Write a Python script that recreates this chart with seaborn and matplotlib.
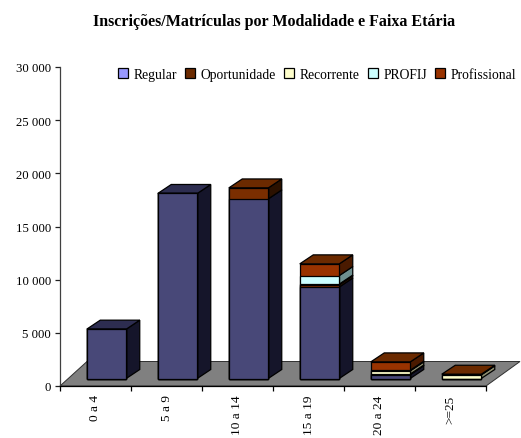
import matplotlib
matplotlib.use("Agg")
import matplotlib.pyplot as plt
from matplotlib.patches import Patch, Polygon
import numpy as np
import seaborn as sns

categories = ["0 a 4", "5 a 9", "10 a 14", "15 a 19", "20 a 24", ">=25"]
regular = [4640, 17400, 16890, 8600, 360, 0]
oportunidade = [0, 0, 1030, 220, 60, 0]
recorrente = [0, 0, 0, 60, 300, 340]
profij = [0, 0, 0, 800, 60, 0]
profissional = [0, 0, 0, 1100, 780, 60]
series_names = ["Regular", "Oportunidade", "Recorrente", "PROFIJ", "Profissional"]
yticks = [0, 5000, 10000, 15000, 20000, 25000, 30000]
ytick_labels = ["0", "5 000", "10 000", "15 000", "20 000", "25 000", "30 000"]

series = [regular, oportunidade, recorrente, profij, profissional]
legend_colors = ["#9999FF", "#6B2A00", "#FFFFCC", "#CCFFFF", "#993300"]
front_colors = ["#484878", "#7A2E00", "#FFFFCC", "#CCFFFF", "#993300"]
side_colors = ["#15152A", "#2B1100", "#8F8F70", "#6F8F8F", "#4A1A00"]
top_colors = ["#2D2D50", "#6B2A00", "#8F8F70", "#6F8F8F", "#6B2A00"]

sns.set_style("white")
plt.rcParams["font.family"] = ["Liberation Serif", "DejaVu Serif"]
plt.rcParams["text.color"] = "black"
plt.rcParams["xtick.color"] = "black"
plt.rcParams["ytick.color"] = "black"

W, H = 521, 439
fig = plt.figure(figsize=(W / 100, H / 100), dpi=100)
ax = fig.add_axes([60 / W, (H - 387) / H, 426 / W, 319 / H])

px_x = 71.0
spacing_scale = 1.0
px_y = 319.0 / 30000
base = 7.5 / px_y
dx = 13.5 / px_x
dy = 9.0 / px_y
bar_w = 39.5 / px_x
x_left = -46.5 / px_x
x_right = x_left + 6.0
lw = 0.9

# floor
floor = Polygon([(x_left, 0), (x_right, 0), (x_right + 34 / px_x, 24.5 / px_y),
                 (x_left + 27 / px_x, 24.5 / px_y)],
                closed=True, facecolor="#808080", edgecolor="#303030", lw=0.7,
                clip_on=False, zorder=0.5)
ax.add_patch(floor)

cum = np.cumsum(np.array(series, dtype=float), axis=0)

# depth faces
for i in range(len(categories)):
    x1 = i + bar_w / 2
    x0 = i - bar_w / 2
    prev = base
    top_idx = 0
    for s in range(len(series)):
        val = series[s][i]
        if val <= 0:
            continue
        y0, y1 = prev, prev + val
        ax.fill([x1, x1 + dx, x1 + dx, x1], [y0, y0 + dy, y1 + dy, y1],
                facecolor=side_colors[s], edgecolor="black", lw=lw, zorder=1, clip_on=False)
        prev = y1
        top_idx = s
    ax.fill([x0, x1, x1 + dx, x0 + dx], [prev, prev, prev + dy, prev + dy],
            facecolor=top_colors[top_idx], edgecolor="black", lw=lw, zorder=1, clip_on=False)

# front faces: tallest cumulative first, overdrawn downwards
for s in range(len(series) - 1, -1, -1):
    sns.barplot(x=categories, y=cum[s], order=categories, bottom=base, color=front_colors[s],
                saturation=1, width=bar_w, edgecolor="black", linewidth=lw,
                errorbar=None, ax=ax, zorder=2)

ax.set_xlim(x_left, x_right)
ax.set_ylim(0, 30000)
for sp in ["top", "right"]:
    ax.spines[sp].set_visible(False)
ax.spines["left"].set_color("#404040")
ax.spines["left"].set_linewidth(0.9)
ax.spines["bottom"].set_color("black")
ax.spines["bottom"].set_linewidth(0.9)
ax.spines["bottom"].set_zorder(3)

ax.set_yticks(yticks)
ax.set_yticklabels(ytick_labels, fontsize=9.2, color="black")
ax.tick_params(axis="y", which="major", length=3.6, width=0.9, color="#202020", pad=3, left=True)

ax.set_xticks([x_left + k for k in range(7)])
ax.set_xticklabels([])
ax.tick_params(axis="x", which="major", length=3.6, width=0.9, color="black", bottom=True)
ax.set_xticks([x_left + k + 0.5 for k in range(6)], minor=True)
ax.set_xticklabels(categories, minor=True, rotation=90, fontsize=9.6, va="top", ha="center", color="black")
ax.tick_params(axis="x", which="minor", length=0, pad=6)
ax.set_xlabel("")
ax.set_ylabel("")
ax.grid(False)

handles = [Patch(facecolor=c, edgecolor="black", lw=0.9) for c in legend_colors]
leg = ax.legend(handles, series_names, ncol=5, frameon=False, fontsize=9.8,
                loc="center", bbox_to_anchor=(317 / W, (H - 75.5) / H),
                bbox_transform=fig.transFigure, labelcolor="black",
                handlelength=0.75, handleheight=0.75, handletextpad=0.4, columnspacing=0.6,
                borderpad=0, borderaxespad=0)

fig.text(274 / W, (H - 22) / H, "Inscrições/Matrículas por Modalidade e Faixa Etária",
         ha="center", va="center", fontsize=11.5, fontweight="bold", color="black")

fig.savefig("out.png", dpi=100)
